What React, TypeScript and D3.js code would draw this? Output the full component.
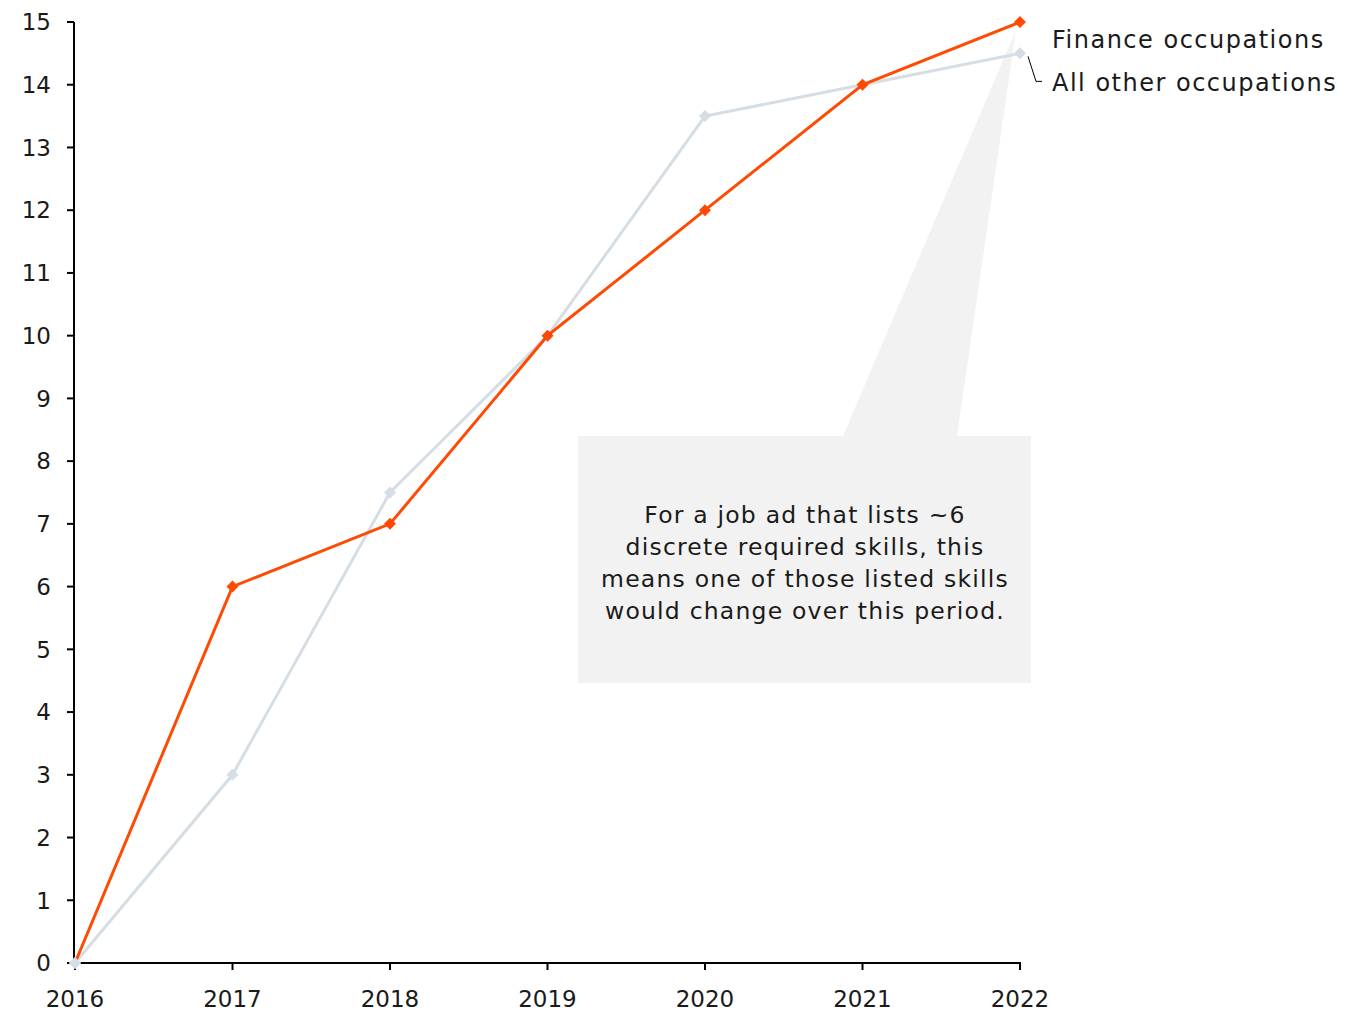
import React from "react";
import * as d3 from "d3";

const years = [2016, 2017, 2018, 2019, 2020, 2021, 2022];
const financeValues = [0, 6, 7, 10, 12, 14, 15];
const otherValues = [0, 3, 7.5, 10, 13.5, 14, 14.5];
const yTicks = [0, 1, 2, 3, 4, 5, 6, 7, 8, 9, 10, 11, 12, 13, 14, 15];
const seriesNames = ["Finance occupations", "All other occupations"];
const calloutLines = [
  "For a job ad that lists ~6",
  "discrete required skills, this",
  "means one of those listed skills",
  "would change over this period.",
];

const W = 1352;
const H = 1011;
const FONT = "'DejaVu Sans', 'Noto Sans', sans-serif";
const ORANGE = "#fe4a03";
const GREY = "#d5dde5";
const TXT = "#1a1a1a";

export default function App() {
  const x = d3.scaleLinear().domain([2016, 2022]).range([75, 1020]);
  const y = d3.scaleLinear().domain([0, 15]).range([963, 22]);
  const line = d3
    .line<number>()
    .x((_, i) => x(years[i]))
    .y((d) => y(d));

  const diamond = (cx: number, cy: number, r: number) =>
    `M${cx},${cy - r}L${cx + r},${cy}L${cx},${cy + r}L${cx - r},${cy}Z`;

  const boxX = 578, boxY = 436, boxW = 453, boxH = 247;
  const fx = x(2022), fy = y(financeValues[6]);
  const ox = x(2022), oy = y(otherValues[6]);

  return (
    <svg
      width={W}
      height={H}
      style={{ position: "absolute", left: 0, top: 0, background: "#fff" }}
      fontFamily={FONT}
    >
      {/* callout */}
      <path d={`M843,${boxY}L${fx - 4},${fy + 8}L957,${boxY}Z`} fill="#f2f2f2" />
      <rect x={boxX} y={boxY} width={boxW} height={boxH} fill="#f2f2f2" />
      <text fontSize={23.5} fill={TXT} textAnchor="middle" letterSpacing={1.2}>
        {calloutLines.map((t, i) => (
          <tspan key={i} x={805} y={523 + i * 32}>
            {t}
          </tspan>
        ))}
      </text>

      {/* axes */}
      <line x1={74} x2={74} y1={22} y2={963} stroke="#000" strokeWidth={2} />
      <line x1={74} x2={1021} y1={963} y2={963} stroke="#000" strokeWidth={2} />
      {yTicks.map((t) => (
        <g key={t}>
          <line x1={67} x2={74} y1={y(t)} y2={y(t)} stroke="#000" strokeWidth={2} />
          <text x={51} y={y(t)} dy="0.36em" textAnchor="end" fontSize={23} fill={TXT}>
            {t}
          </text>
        </g>
      ))}
      {years.map((yr) => (
        <g key={yr}>
          <line x1={x(yr)} x2={x(yr)} y1={963} y2={970} stroke="#000" strokeWidth={2} />
          <text x={x(yr)} y={1007} textAnchor="middle" fontSize={23} fill={TXT}>
            {yr}
          </text>
        </g>
      ))}

      {/* lines */}
      <path d={line(otherValues) || ""} fill="none" stroke={GREY} strokeWidth={3} />
      {otherValues.map((v, i) => (
        <path key={"o" + i} d={diamond(x(years[i]), y(v), 6)} fill={GREY} />
      ))}
      <path d={line(financeValues) || ""} fill="none" stroke={ORANGE} strokeWidth={3} />
      {financeValues.map((v, i) =>
        i === 0 ? null : (
          <path key={"f" + i} d={diamond(x(years[i]), y(v), 6)} fill={ORANGE} />
        )
      )}
      <path d={diamond(x(years[0]), y(otherValues[0]), 6)} fill={GREY} />

      {/* legend labels */}
      <text x={1052} y={fy + 26} fontSize={24} fill={TXT} letterSpacing={1.5}>
        {seriesNames[0]}
      </text>
      <path
        d={`M${ox + 8},${oy + 3}L${ox + 16},${oy + 28}L${ox + 22},${oy + 28}`}
        fill="none"
        stroke="#000"
        strokeWidth={1}
      />
      <text x={1052} y={oy + 38} fontSize={24} fill={TXT} letterSpacing={1.5}>
        {seriesNames[1]}
      </text>
    </svg>
  );
}
